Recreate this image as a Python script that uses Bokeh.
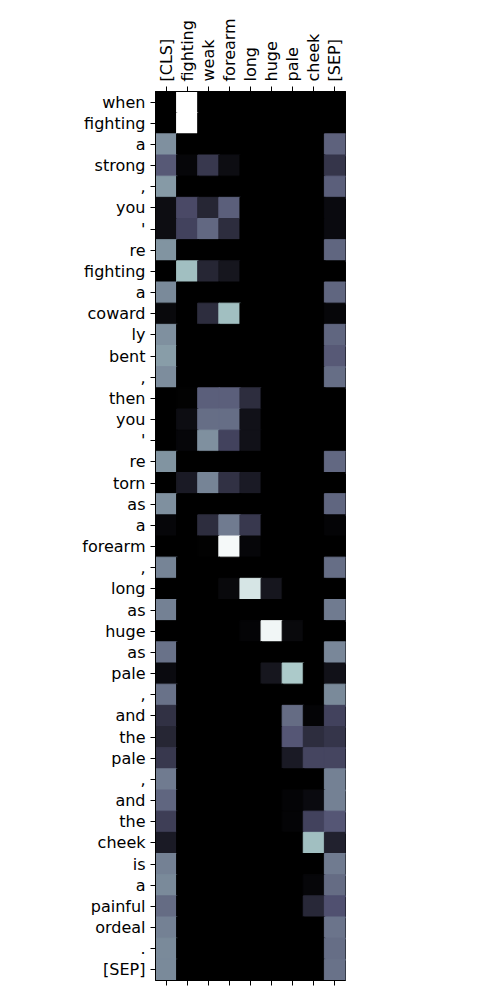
import numpy as np
from math import pi
from bokeh.plotting import figure
from bokeh.models import Range1d, LinearAxis, FixedTicker, ColumnDataSource, LinearColorMapper
from bokeh.transform import transform
from bokeh.embed import file_html
from bokeh.resources import INLINE

col_labels = ["[CLS]", "fighting", "weak", "forearm", "long", "huge", "pale", "cheek", "[SEP]"]
row_labels = ["when", "fighting", "a", "strong", ",", "you", "'", "re", "fighting", "a",
              "coward", "ly", "bent", ",", "then", "you", "'", "re", "torn", "as",
              "a", "forearm", ",", "long", "as", "huge", "as", "pale", ",", "and",
              "the", "pale", ",", "and", "the", "cheek", "is", "a", "painful", "ordeal",
              ".", "[SEP]"]

attention = [
    [0.00, 1.00, 0.00, 0.00, 0.00, 0.00, 0.00, 0.00, 0.00],
    [0.00, 1.00, 0.00, 0.00, 0.00, 0.00, 0.00, 0.00, 0.00],
    [0.57, 0.00, 0.00, 0.00, 0.00, 0.00, 0.00, 0.00, 0.42],
    [0.39, 0.03, 0.25, 0.06, 0.00, 0.00, 0.00, 0.00, 0.24],
    [0.60, 0.00, 0.00, 0.00, 0.00, 0.00, 0.00, 0.00, 0.41],
    [0.06, 0.33, 0.17, 0.41, 0.00, 0.00, 0.00, 0.00, 0.05],
    [0.06, 0.30, 0.44, 0.20, 0.00, 0.00, 0.00, 0.00, 0.05],
    [0.58, 0.00, 0.00, 0.00, 0.00, 0.00, 0.00, 0.00, 0.43],
    [0.00, 0.72, 0.17, 0.10, 0.00, 0.00, 0.00, 0.00, 0.00],
    [0.55, 0.00, 0.00, 0.00, 0.00, 0.00, 0.00, 0.00, 0.43],
    [0.04, 0.00, 0.20, 0.72, 0.00, 0.00, 0.00, 0.00, 0.03],
    [0.57, 0.00, 0.00, 0.00, 0.00, 0.00, 0.00, 0.00, 0.43],
    [0.61, 0.00, 0.00, 0.00, 0.00, 0.00, 0.00, 0.00, 0.39],
    [0.56, 0.00, 0.00, 0.00, 0.00, 0.00, 0.00, 0.00, 0.46],
    [0.00, 0.01, 0.41, 0.41, 0.20, 0.00, 0.00, 0.00, 0.00],
    [0.00, 0.06, 0.46, 0.46, 0.08, 0.00, 0.00, 0.00, 0.00],
    [0.00, 0.03, 0.57, 0.30, 0.08, 0.00, 0.00, 0.00, 0.00],
    [0.58, 0.00, 0.00, 0.00, 0.00, 0.00, 0.00, 0.00, 0.44],
    [0.00, 0.12, 0.53, 0.22, 0.12, 0.00, 0.00, 0.00, 0.00],
    [0.57, 0.00, 0.00, 0.00, 0.00, 0.00, 0.00, 0.00, 0.43],
    [0.03, 0.00, 0.20, 0.50, 0.25, 0.00, 0.00, 0.00, 0.02],
    [0.00, 0.00, 0.01, 0.97, 0.03, 0.00, 0.00, 0.00, 0.00],
    [0.53, 0.00, 0.00, 0.00, 0.00, 0.00, 0.00, 0.00, 0.46],
    [0.00, 0.00, 0.00, 0.04, 0.88, 0.10, 0.00, 0.00, 0.00],
    [0.52, 0.00, 0.00, 0.00, 0.00, 0.00, 0.00, 0.00, 0.50],
    [0.00, 0.00, 0.00, 0.00, 0.02, 0.96, 0.04, 0.00, 0.00],
    [0.47, 0.00, 0.00, 0.00, 0.00, 0.00, 0.00, 0.00, 0.54],
    [0.05, 0.00, 0.00, 0.00, 0.00, 0.10, 0.76, 0.00, 0.08],
    [0.47, 0.00, 0.00, 0.00, 0.00, 0.00, 0.00, 0.00, 0.55],
    [0.22, 0.00, 0.00, 0.00, 0.00, 0.00, 0.45, 0.02, 0.30],
    [0.17, 0.00, 0.00, 0.00, 0.00, 0.00, 0.38, 0.20, 0.24],
    [0.25, 0.00, 0.00, 0.00, 0.00, 0.00, 0.12, 0.31, 0.31],
    [0.50, 0.00, 0.00, 0.00, 0.00, 0.00, 0.00, 0.00, 0.52],
    [0.43, 0.00, 0.00, 0.00, 0.00, 0.00, 0.02, 0.05, 0.52],
    [0.28, 0.00, 0.00, 0.00, 0.00, 0.00, 0.02, 0.30, 0.38],
    [0.12, 0.00, 0.00, 0.00, 0.00, 0.00, 0.00, 0.72, 0.15],
    [0.52, 0.00, 0.00, 0.00, 0.00, 0.00, 0.00, 0.00, 0.50],
    [0.55, 0.00, 0.00, 0.00, 0.00, 0.00, 0.00, 0.03, 0.45],
    [0.45, 0.00, 0.00, 0.00, 0.00, 0.00, 0.00, 0.18, 0.36],
    [0.52, 0.00, 0.00, 0.00, 0.00, 0.00, 0.00, 0.00, 0.48],
    [0.55, 0.00, 0.00, 0.00, 0.00, 0.00, 0.00, 0.00, 0.46],
    [0.55, 0.00, 0.00, 0.00, 0.00, 0.00, 0.00, 0.00, 0.47],
]

# matplotlib "bone" colormap
t = np.linspace(0, 1, 256)
r = np.interp(t, [0, 0.746032, 1], [0, 0.652778, 1])
g = np.interp(t, [0, 0.365079, 0.746032, 1], [0, 0.319444, 0.777778, 1])
b = np.interp(t, [0, 0.365079, 1], [0, 0.444444, 1])
bone = ["#%02x%02x%02x" % (int(round(a * 255)), int(round(c * 255)), int(round(d * 255)))
        for a, c, d in zip(r, g, b)]

xs, ys, vs = [], [], []
for i, row in enumerate(attention):
    for j, v in enumerate(row):
        xs.append(j)
        ys.append(i)
        vs.append(v)
src = ColumnDataSource(dict(x=xs, y=ys, v=vs))
mapper = LinearColorMapper(palette=bone, low=0, high=1)

nr = len(row_labels)
nc = len(col_labels)

p = figure(width=500, height=1000, output_backend="svg", toolbar_location=None,
           x_range=Range1d(-0.5, nc - 0.5), y_range=Range1d(nr - 0.5, -0.5),
           x_axis_location=None, y_axis_location=None,
           min_border_left=155, min_border_right=155, min_border_top=91, min_border_bottom=20)
p.grid.visible = False
p.outline_line_color = "black"
p.outline_line_width = 1
p.background_fill_color = "black"
p.border_fill_color = "white"

p.rect(x="x", y="y", width=1, height=1, source=src, dilate=True,
       fill_color=transform("v", mapper), line_color=transform("v", mapper), line_width=1)

font = "DejaVu Sans"

def style(ax):
    ax.major_label_text_font = font
    ax.major_label_text_font_size = "16px"
    ax.major_label_text_color = "black"
    ax.major_tick_out = 5
    ax.major_tick_in = 0
    ax.minor_tick_out = 0
    ax.minor_tick_in = 0
    ax.axis_line_color = "black"
    ax.major_tick_line_color = "black"
    ax.major_label_standoff = 5

top = LinearAxis(ticker=FixedTicker(ticks=list(range(nc))),
                 major_label_overrides={i: s for i, s in enumerate(col_labels)})
style(top)
top.major_label_orientation = pi / 2
p.add_layout(top, "above")

bottom = LinearAxis(ticker=FixedTicker(ticks=list(range(nc))),
                    major_label_overrides={i: "" for i in range(nc)})
style(bottom)
p.add_layout(bottom, "below")

left = LinearAxis(ticker=FixedTicker(ticks=list(range(nr))),
                  major_label_overrides={i: s for i, s in enumerate(row_labels)})
style(left)
p.add_layout(left, "left")

open("out.html", "w").write(file_html(p, INLINE))
